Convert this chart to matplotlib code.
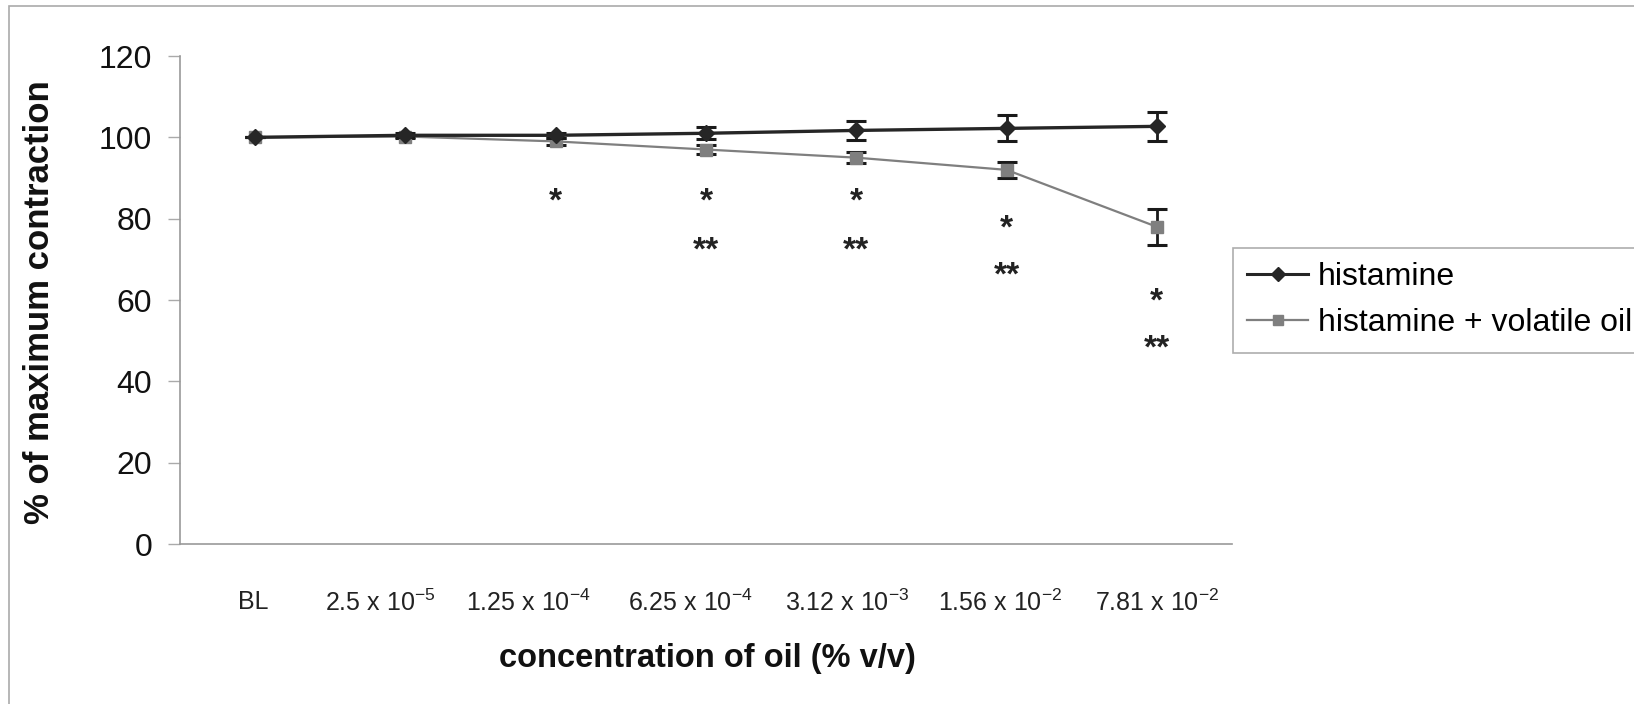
import matplotlib.pyplot as plt
from matplotlib.lines import Line2D
from matplotlib.patches import Rectangle
from matplotlib.transforms import ScaledTranslation

plt.rcParams['font.family'] = ['Liberation Sans', 'DejaVu Sans']
plt.rcParams['mathtext.default'] = 'regular'

# data
categories = ['BL', '2.5 x 10$^{-5}$', '1.25 x 10$^{-4}$', '6.25 x 10$^{-4}$',
              '3.12 x 10$^{-3}$', '1.56 x 10$^{-2}$', '7.81 x 10$^{-2}$']
histamine = [100, 100.5, 100.5, 101, 101.7, 102.2, 102.7]
histamine_err = [0, 0.5, 0.6, 1.5, 2.4, 3.2, 3.6]
oil = [100, 100.2, 99, 97, 95, 92, 78]
oil_err = [0, 0.4, 0.8, 1.0, 1.3, 2.0, 4.4]
# significance marks: (category index, y, text)
stars = [(2, 85.5, '*'), (3, 85.5, '*'), (3, 73.5, '**'), (4, 85.5, '*'), (4, 73.5, '**'),
         (5, 79, '*'), (5, 67.5, '**'), (6, 61, '*'), (6, 49.5, '**')]

fig = plt.figure(figsize=(16.34, 7.04), dpi=100)
ax = fig.add_axes([180 / 1634, 1 - 544 / 704, (1232 - 180) / 1634, (544 - 56) / 704])

x = list(range(len(categories)))
ax.errorbar(x, histamine, yerr=histamine_err, color='#262626', lw=2.4, marker='D',
            markersize=8.5, ecolor='#1a1a1a', elinewidth=2, capsize=7, capthick=2.2,
            zorder=3)
ax.errorbar(x, oil, yerr=oil_err, color='#7f7f7f', lw=1.6, marker='s',
            markersize=9, ecolor='#1a1a1a', elinewidth=2, capsize=7, capthick=2.2,
            zorder=2)

for i, y, s in stars:
    ax.text(i, y - 1.5, s, ha='center', va='center', fontsize=24, fontweight='bold',
            color='#222222')

ax.set_xlim(-0.5, len(categories) - 0.5)
ax.set_ylim(0, 120)
ax.set_yticks(range(0, 121, 20))
ax.set_xticks(x)
ax.set_xticklabels(categories, fontsize=18)
ax.tick_params(axis='x', length=0, pad=33, colors='#222222')
ax.tick_params(axis='y', length=9, width=1, color='#aaaaaa', labelsize=23, pad=11,
               labelcolor='#111111')

# the scanned labels sit a little left of their categories
label_shift = [-2, -25, -27, -16, -9, -6, 0]
for lab, dx in zip(ax.get_xticklabels(), label_shift):
    lab.set_transform(lab.get_transform() + ScaledTranslation(dx / 100, 0, fig.dpi_scale_trans))

for side in ['top', 'right']:
    ax.spines[side].set_visible(False)
for side in ['left', 'bottom']:
    ax.spines[side].set_color('#999999')
    ax.spines[side].set_linewidth(1.2)

fig.text(707 / 1634, 1 - 658 / 704, 'concentration of oil (% v/v)', ha='center',
         va='center', fontsize=23.5, fontweight='bold', color='#111111')
fig.text(40 / 1634, 1 - 302 / 704, '% of maximum contraction', ha='center',
         va='center', rotation=90, fontsize=25, fontweight='bold', color='#111111')

handles = [Line2D([], [], color='#262626', lw=2.2, marker='D', markersize=7),
           Line2D([], [], color='#7f7f7f', lw=1.6, marker='s', markersize=7)]
leg = ax.legend(handles, ['histamine', 'histamine + volatile oil'], loc='upper left',
                bbox_to_anchor=(1233 / 1634, 1 - 248 / 704),
                bbox_transform=fig.transFigure, fontsize=23, frameon=True,
                fancybox=False, borderpad=0.45, handlelength=1.9, handletextpad=0.3,
                labelspacing=0.5, borderaxespad=0)
leg.get_frame().set_edgecolor('#999999')
leg.get_frame().set_linewidth(1.2)

# outer frame of the chart area
fig.patches.append(Rectangle((9 / 1634, -0.1), 1.2, 1 - 6 / 704 + 0.1,
                             transform=fig.transFigure, fill=False,
                             edgecolor='#aaaaaa', lw=1.2))

fig.savefig('out.png', dpi=100)
